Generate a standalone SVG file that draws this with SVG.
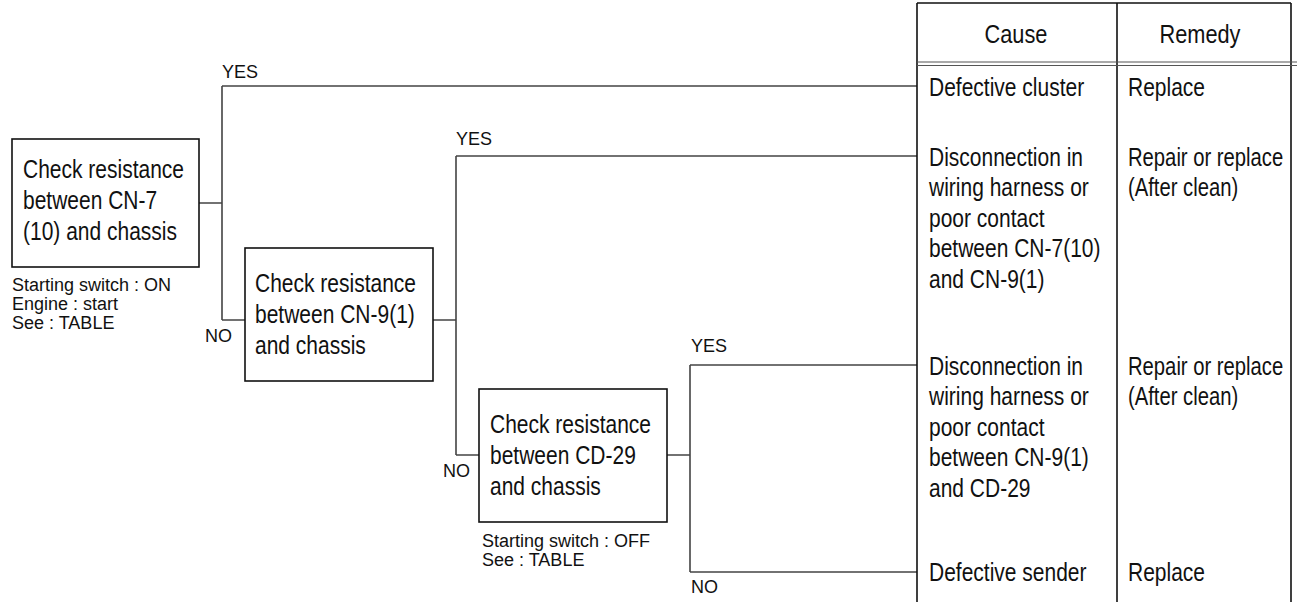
<svg xmlns="http://www.w3.org/2000/svg" width="1300" height="602" viewBox="0 0 1300 602">
<style>
.bg{fill:#fff}
.box{fill:#fff;stroke:#111;stroke-width:1.6}
.conn{fill:none;stroke:#444;stroke-width:1.6}
.tbl{fill:none;stroke:#111;stroke-width:1.6}
.dbl{fill:none;stroke:#555;stroke-width:1.2}
text{font-family:"Liberation Sans",Arial,Helvetica,sans-serif;fill:#111}
.m{font-size:25px}
.s{font-size:18px}
.mid{text-anchor:middle}
</style>
<rect class="bg" x="0" y="0" width="1300" height="602"/>

<g id="connectors">
<path class="conn" d="M199,203 H222 M222,86 V320 M222,86 H917 M222,320 H245"/>
<path class="conn" d="M433,320 H456 M456,156 V455 M456,156 H917 M456,455 H479"/>
<path class="conn" d="M667,455 H690 M690,365 V572 M690,365 H917 M690,572 H917"/>
<g id="labels">
<text class="s" x="222" y="78">YES</text>
<text class="s" x="205" y="342">NO</text>
<text class="s" x="456" y="145">YES</text>
<text class="s" x="443" y="477">NO</text>
<text class="s" x="691" y="352">YES</text>
<text class="s" x="691" y="593">NO</text>
</g>
</g>

<g id="check1">
<rect class="box" x="12" y="139" width="187" height="128"/>
<text class="m" transform="translate(23,0) scale(0.84,1)"><tspan x="0" y="178">Check resistance</tspan><tspan x="0" y="209">between CN-7</tspan><tspan x="0" y="240">(10) and chassis</tspan></text>
<text class="s"><tspan x="12" y="291">Starting switch : ON</tspan><tspan x="12" y="310">Engine : start</tspan><tspan x="12" y="329">See : TABLE</tspan></text>
</g>

<g id="check2">
<rect class="box" x="245" y="248" width="188" height="133"/>
<text class="m" transform="translate(255,0) scale(0.84,1)"><tspan x="0" y="292">Check resistance</tspan><tspan x="0" y="323">between CN-9(1)</tspan><tspan x="0" y="354">and chassis</tspan></text>
</g>

<g id="check3">
<rect class="box" x="479" y="389" width="188" height="133"/>
<text class="m" transform="translate(490,0) scale(0.84,1)"><tspan x="0" y="433">Check resistance</tspan><tspan x="0" y="464">between CD-29</tspan><tspan x="0" y="495">and chassis</tspan></text>
<text class="s"><tspan x="482" y="547">Starting switch : OFF</tspan><tspan x="482" y="566">See : TABLE</tspan></text>
</g>

<g id="table">
<path class="tbl" d="M917,3 H1291 M917,3 V602 M1117,3 V602 M1291,3 V602"/>
<path class="dbl" d="M917,62 H1297 M917,65.5 H1297"/>
<text class="m mid" transform="translate(1016,0) scale(0.87,1)" x="0" y="43">Cause</text>
<text class="m mid" transform="translate(1200,0) scale(0.87,1)" x="0" y="43">Remedy</text>
</g>

<g id="result1">
<text class="m" transform="translate(929,0) scale(0.84,1)" x="0" y="96">Defective cluster</text>
<text class="m" transform="translate(1128,0) scale(0.84,1)" x="0" y="96">Replace</text>
</g>

<g id="result2">
<text class="m" transform="translate(929,0) scale(0.84,1)"><tspan x="0" y="166">Disconnection in</tspan><tspan x="0" y="196.5">wiring harness or</tspan><tspan x="0" y="227">poor contact</tspan><tspan x="0" y="257.5">between CN-7(10)</tspan><tspan x="0" y="288">and CN-9(1)</tspan></text>
<text class="m" transform="translate(1128,0) scale(0.81,1)"><tspan x="0" y="166">Repair or replace</tspan><tspan x="0" y="196.5">(After clean)</tspan></text>
</g>

<g id="result3">
<text class="m" transform="translate(929,0) scale(0.84,1)"><tspan x="0" y="375">Disconnection in</tspan><tspan x="0" y="405.5">wiring harness or</tspan><tspan x="0" y="436">poor contact</tspan><tspan x="0" y="466.5">between CN-9(1)</tspan><tspan x="0" y="497">and CD-29</tspan></text>
<text class="m" transform="translate(1128,0) scale(0.81,1)"><tspan x="0" y="375">Repair or replace</tspan><tspan x="0" y="405.5">(After clean)</tspan></text>
</g>

<g id="result4">
<text class="m" transform="translate(929,0) scale(0.84,1)" x="0" y="581">Defective sender</text>
<text class="m" transform="translate(1128,0) scale(0.84,1)" x="0" y="581">Replace</text>
</g>
</svg>
